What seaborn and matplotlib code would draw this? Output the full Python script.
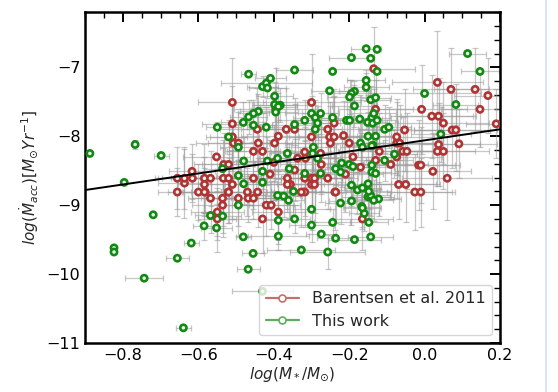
import numpy as np
import pandas as pd
import seaborn as sns
import matplotlib.pyplot as plt
from matplotlib.lines import Line2D
from matplotlib.ticker import MultipleLocator

# (log M*, log Macc, x error, y error)
barentsen_pts = [
    (-0.656, -8.61, 0.06, 0.45), (-0.656, -8.81, 0.05, 0.35), (-0.637, -8.68, 0.07, 0.50),
    (-0.600, -8.81, 0.08, 0.40), (-0.582, -8.81, 0.06, 0.30), (-0.521, -8.81, 0.10, 0.45),
    (-0.470, -8.81, 0.07, 0.35), (-0.443, -8.81, 0.09, 0.50), (-0.568, -8.90, 0.06, 0.30),
    (-0.536, -8.90, 0.08, 0.40), (-0.494, -8.90, 0.10, 0.55), (-0.468, -8.90, 0.07, 0.35),
    (-0.454, -8.90, 0.06, 0.30), (-0.536, -9.00, 0.08, 0.40), (-0.550, -9.10, 0.07, 0.35),
    (-0.550, -9.20, 0.05, 0.30), (-0.420, -9.00, 0.09, 0.45), (-0.407, -9.00, 0.06, 0.35),
    (-0.430, -9.20, 0.08, 0.50), (-0.388, -9.10, 0.07, 0.40), (-0.507, -8.10, 0.10, 0.60),
    (-0.494, -8.10, 0.08, 0.45), (-0.441, -8.10, 0.09, 0.50), (-0.454, -8.22, 0.07, 0.40),
    (-0.430, -8.22, 0.10, 0.55), (-0.552, -8.30, 0.09, 0.50), (-0.533, -8.41, 0.08, 0.45),
    (-0.520, -8.41, 0.07, 0.35), (-0.617, -8.51, 0.06, 0.40), (-0.637, -8.61, 0.07, 0.45),
    (-0.616, -8.61, 0.08, 0.35), (-0.584, -8.61, 0.09, 0.50), (-0.568, -8.61, 0.07, 0.40),
    (-0.534, -8.61, 0.10, 0.55), (-0.520, -8.61, 0.06, 0.30), (-0.454, -8.61, 0.08, 0.45),
    (-0.584, -8.70, 0.07, 0.40), (-0.510, -8.70, 0.09, 0.50), (-0.584, -8.81, 0.06, 0.35),
    (-0.520, -8.81, 0.08, 0.45), (-0.510, -7.51, 0.09, 0.65), (-0.510, -7.82, 0.08, 0.55),
    (-0.444, -7.90, 0.10, 0.60), (-0.510, -8.01, 0.07, 0.50), (-0.395, -7.61, 0.11, 0.60),
    (-0.398, -8.10, 0.09, 0.55), (-0.388, -8.00, 0.10, 0.50), (-0.367, -7.90, 0.12, 0.60),
    (-0.345, -7.90, 0.09, 0.45), (-0.257, -7.90, 0.11, 0.55), (-0.300, -8.01, 0.10, 0.50),
    (-0.252, -8.01, 0.08, 0.45), (-0.240, -8.01, 0.12, 0.60), (-0.215, -7.99, 0.09, 0.50),
    (-0.300, -7.51, 0.13, 0.70), (-0.130, -7.61, 0.10, 0.55), (-0.135, -7.02, 0.11, 0.60),
    (-0.240, -7.81, 0.10, 0.50), (-0.364, -8.61, 0.08, 0.45), (-0.356, -8.70, 0.09, 0.50),
    (-0.364, -8.70, 0.07, 0.40), (-0.318, -8.61, 0.10, 0.55), (-0.300, -8.61, 0.08, 0.45),
    (-0.292, -8.61, 0.09, 0.50), (-0.300, -8.70, 0.07, 0.40), (-0.292, -8.70, 0.10, 0.55),
    (-0.257, -8.61, 0.08, 0.45), (-0.318, -8.81, 0.09, 0.50), (-0.238, -8.81, 0.10, 0.55),
    (-0.345, -8.49, 0.08, 0.45), (-0.274, -8.41, 0.11, 0.55), (-0.318, -8.23, 0.09, 0.50),
    (-0.316, -8.32, 0.08, 0.45), (-0.337, -8.32, 0.10, 0.55), (-0.250, -8.10, 0.12, 0.60),
    (-0.200, -8.10, 0.09, 0.50), (-0.276, -8.25, 0.10, 0.55), (-0.165, -9.20, 0.08, 0.45),
    (-0.026, -8.81, 0.10, 0.55), (-0.010, -8.81, 0.09, 0.50), (-0.236, -8.81, 0.08, 0.45),
    (-0.327, -8.81, 0.09, 0.50), (-0.074, -8.10, 0.12, 0.60), (-0.066, -8.10, 0.10, 0.55),
    (-0.058, -8.22, 0.11, 0.50), (-0.047, -8.22, 0.09, 0.55), (-0.074, -8.30, 0.12, 0.60),
    (-0.090, -8.41, 0.10, 0.50), (-0.016, -8.42, 0.11, 0.65), (-0.010, -8.42, 0.09, 0.55),
    (0.022, -8.51, 0.10, 0.55), (0.060, -8.61, 0.12, 0.60), (-0.069, -8.70, 0.10, 0.50),
    (-0.050, -8.70, 0.09, 0.55), (0.037, -8.12, 0.11, 0.60), (0.034, -8.22, 0.10, 0.50),
    (0.050, -8.22, 0.12, 0.55), (0.091, -8.11, 0.10, 0.50), (0.034, -7.22, 0.12, 0.75),
    (0.070, -7.32, 0.10, 0.60), (0.134, -7.32, 0.11, 0.60), (0.168, -7.41, 0.09, 0.55),
    (-0.008, -7.61, 0.12, 0.65), (0.147, -7.61, 0.10, 0.55), (0.019, -7.71, 0.11, 0.60),
    (0.037, -7.71, 0.10, 0.55), (0.050, -7.81, 0.12, 0.60), (0.073, -7.91, 0.10, 0.55),
    (0.083, -7.91, 0.11, 0.60), (0.190, -7.82, 0.08, 0.50), (-0.053, -7.91, 0.12, 0.60),
    (-0.074, -8.01, 0.10, 0.55), (-0.120, -8.22, 0.11, 0.55), (-0.130, -8.35, 0.10, 0.50),
    (-0.170, -8.45, 0.09, 0.50), (-0.210, -8.55, 0.10, 0.55), (-0.190, -8.30, 0.11, 0.60),
    (-0.410, -8.55, 0.09, 0.50), (-0.400, -8.38, 0.10, 0.55),
]

this_work_pts = [
    (-0.888, -8.25, 0.00, 0.00), (-0.768, -8.12, 0.00, 0.06), (-0.699, -8.28, 0.02, 0.00),
    (-0.797, -8.67, 0.00, 0.00), (-0.720, -9.14, 0.00, 0.00), (-0.824, -9.62, 0.00, 0.00),
    (-0.824, -9.68, 0.00, 0.00), (-0.656, -9.77, 0.03, 0.00), (-0.744, -10.06, 0.05, 0.00),
    (-0.640, -10.78, 0.02, 0.00), (-0.568, -9.15, 0.04, 0.25), (-0.536, -9.16, 0.05, 0.30),
    (-0.585, -9.30, 0.03, 0.20), (-0.552, -9.33, 0.04, 0.35), (-0.619, -9.55, 0.02, 0.00),
    (-0.481, -9.46, 0.02, 0.00), (-0.455, -9.70, 0.03, 0.00), (-0.468, -9.93, 0.03, 0.00),
    (-0.494, -9.00, 0.04, 0.30), (-0.374, -8.87, 0.05, 0.30), (-0.361, -8.93, 0.04, 0.25),
    (-0.388, -9.22, 0.05, 0.35), (-0.345, -9.20, 0.04, 0.20), (-0.300, -9.06, 0.05, 0.30),
    (-0.300, -9.29, 0.06, 0.25), (-0.244, -9.25, 0.05, 0.20), (-0.223, -8.97, 0.04, 0.30),
    (-0.194, -8.94, 0.06, 0.35), (-0.167, -9.02, 0.05, 0.30), (-0.160, -9.12, 0.04, 0.25),
    (-0.148, -9.25, 0.05, 0.20), (-0.388, -9.45, 0.08, 0.20), (-0.274, -9.42, 0.04, 0.00),
    (-0.236, -9.48, 0.05, 0.00), (-0.186, -9.50, 0.07, 0.00), (-0.143, -9.46, 0.06, 0.00),
    (-0.327, -9.65, 0.09, 0.00), (-0.257, -9.68, 0.10, 0.25), (-0.150, -8.88, 0.07, 0.35),
    (-0.143, -8.88, 0.05, 0.30), (-0.122, -8.91, 0.06, 0.25), (-0.430, -10.25, 0.08, 0.00),
    (0.114, -6.80, 0.05, 0.00), (0.147, -7.06, 0.05, 0.00), (0.000, -7.38, 0.15, 0.00),
    (0.083, -7.54, 0.06, 0.30), (-0.106, -7.90, 0.07, 0.35), (-0.095, -7.87, 0.06, 0.30),
    (0.043, -7.97, 0.08, 0.40), (-0.155, -6.73, 0.04, 0.00), (-0.126, -6.74, 0.00, 0.00),
    (-0.194, -6.86, 0.06, 0.00), (-0.143, -6.87, 0.00, 0.00), (-0.345, -7.04, 0.05, 0.00),
    (-0.244, -7.06, 0.00, 0.00), (-0.126, -7.06, 0.00, 0.00), (-0.155, -7.19, 0.05, 0.15),
    (-0.155, -7.29, 0.06, 0.20), (-0.252, -7.34, 0.05, 0.00), (-0.186, -7.35, 0.04, 0.15),
    (-0.194, -7.38, 0.05, 0.20), (-0.199, -7.43, 0.06, 0.25), (-0.143, -7.47, 0.05, 0.20),
    (-0.130, -7.44, 0.04, 0.25), (-0.186, -7.56, 0.06, 0.30), (-0.300, -7.67, 0.07, 0.25),
    (-0.276, -7.67, 0.05, 0.30), (-0.290, -7.73, 0.06, 0.25), (-0.318, -7.77, 0.07, 0.30),
    (-0.284, -7.81, 0.06, 0.25), (-0.244, -7.73, 0.05, 0.30), (-0.207, -7.77, 0.07, 0.35),
    (-0.199, -7.77, 0.05, 0.30), (-0.172, -7.75, 0.06, 0.35), (-0.140, -7.73, 0.05, 0.30),
    (-0.135, -7.67, 0.06, 0.35), (-0.151, -7.80, 0.05, 0.40), (-0.138, -7.81, 0.06, 0.30),
    (-0.126, -7.77, 0.05, 0.35), (-0.345, -7.83, 0.06, 0.30), (-0.290, -7.90, 0.07, 0.35),
    (-0.383, -7.55, 0.07, 0.25), (-0.467, -7.10, 0.02, 0.00), (-0.430, -7.28, 0.04, 0.15),
    (-0.420, -7.23, 0.12, 0.00), (-0.417, -7.30, 0.05, 0.15), (-0.409, -7.16, 0.04, 0.00),
    (-0.398, -7.42, 0.05, 0.20), (-0.398, -7.54, 0.06, 0.25), (-0.388, -7.57, 0.05, 0.20),
    (-0.395, -7.65, 0.06, 0.30), (-0.441, -7.64, 0.05, 0.25), (-0.454, -7.67, 0.04, 0.20),
    (-0.467, -7.72, 0.05, 0.25), (-0.481, -7.80, 0.06, 0.30), (-0.454, -7.84, 0.05, 0.25),
    (-0.550, -7.87, 0.03, 0.00), (-0.420, -7.87, 0.05, 0.30), (-0.520, -8.01, 0.05, 0.25),
    (-0.494, -8.16, 0.05, 0.30), (-0.480, -8.36, 0.06, 0.35), (-0.536, -8.47, 0.05, 0.30),
    (-0.494, -8.57, 0.06, 0.35), (-0.480, -8.69, 0.05, 0.30), (-0.430, -8.51, 0.06, 0.35),
    (-0.430, -8.67, 0.05, 0.30), (-0.417, -8.36, 0.06, 0.35), (-0.390, -8.32, 0.05, 0.30),
    (-0.390, -8.86, 0.06, 0.35), (-0.364, -8.25, 0.05, 0.30), (-0.359, -8.47, 0.06, 0.35),
    (-0.318, -8.54, 0.05, 0.30), (-0.295, -8.16, 0.06, 0.35), (-0.297, -8.25, 0.05, 0.30),
    (-0.284, -8.32, 0.06, 0.35), (-0.276, -8.54, 0.05, 0.30), (-0.236, -8.47, 0.06, 0.35),
    (-0.223, -8.52, 0.05, 0.30), (-0.220, -8.39, 0.06, 0.35), (-0.200, -8.41, 0.05, 0.30),
    (-0.190, -8.44, 0.06, 0.35), (-0.170, -8.10, 0.05, 0.30), (-0.165, -8.16, 0.06, 0.35),
    (-0.137, -8.13, 0.05, 0.30), (-0.140, -8.42, 0.06, 0.35), (-0.140, -8.52, 0.05, 0.30),
    (-0.130, -8.54, 0.06, 0.35), (-0.194, -8.71, 0.05, 0.30), (-0.178, -8.78, 0.06, 0.35),
    (-0.165, -8.75, 0.05, 0.30), (-0.150, -8.69, 0.06, 0.35), (-0.143, -8.86, 0.05, 0.30),
    (-0.148, -8.80, 0.06, 0.35), (-0.135, -8.93, 0.05, 0.30), (-0.348, -8.80, 0.06, 0.35),
    (-0.165, -9.04, 0.05, 0.30), (-0.080, -8.26, 0.06, 0.35), (-0.106, -8.35, 0.05, 0.30),
    (-0.150, -8.00, 0.06, 0.35), (-0.130, -8.00, 0.05, 0.30), (-0.140, -8.14, 0.06, 0.35),
]

fit_slope = 0.80
fit_intercept = -8.06

series_names = ["Barentsen et al. 2011", "This work"]
series_colors = ["#b03434", "#128a12"]
legend_colors = ["#c27070", "#5fae5f"]

cols = ["logM", "logMacc", "xerr", "yerr"]
df = pd.concat([
    pd.DataFrame(barentsen_pts, columns=cols).assign(sample=series_names[0]),
    pd.DataFrame(this_work_pts, columns=cols).assign(sample=series_names[1]),
], ignore_index=True)

sns.set_style("white")
plt.rcParams['font.family'] = ['DejaVu Sans']
plt.rcParams['mathtext.fontset'] = 'dejavusans'

fig = plt.figure(figsize=(5.58, 3.92), dpi=100)
ax = fig.add_axes([0.153, 0.125, 0.743, 0.844])

for name in series_names:
    sub = df[df["sample"] == name]
    ax.errorbar(sub["logM"], sub["logMacc"], xerr=sub["xerr"], yerr=sub["yerr"],
                fmt="none", ecolor="#9a9a9a", alpha=0.55, elinewidth=0.9,
                capsize=2.5, capthick=0.9, zorder=1)

sns.scatterplot(data=df, x="logM", y="logMacc", hue="sample",
                palette=dict(zip(series_names, series_colors)),
                hue_order=series_names, ax=ax, legend=False,
                s=20, linewidth=1.9, zorder=3)
# ring markers: light face, coloured edge
pts = ax.collections[-1]
pts.set_edgecolors(pts.get_facecolors())
pts.set_facecolors("#eef4ee")

ax.axline((0, fit_intercept), slope=fit_slope, color="black", lw=1.4, zorder=4)

ax.set_xlim(-0.9, 0.2)
ax.set_ylim(-11, -6.2)
ax.xaxis.set_major_locator(MultipleLocator(0.2))
ax.xaxis.set_minor_locator(MultipleLocator(0.05))
ax.yaxis.set_major_locator(MultipleLocator(1))
ax.yaxis.set_minor_locator(MultipleLocator(0.2))
ax.tick_params(which="both", direction="in", top=True, right=True, colors="black",
               labelsize=11.5)
ax.tick_params(which="major", length=7, width=1.4)
ax.tick_params(which="minor", length=4, width=1.0)
for sp in ax.spines.values():
    sp.set_color("black")
    sp.set_linewidth(1.8)

ax.set_xlabel(r"$log(M_*/M_{\odot})$", fontsize=11, labelpad=2)
ax.set_ylabel(r"$log(\dot{M}_{acc})[M_{\odot}Yr^{-1}]$", fontsize=11, labelpad=4)

handles = [Line2D([0], [0], color=c, lw=1.6, marker="o", markersize=5,
                  markerfacecolor="white", markeredgecolor=c, markeredgewidth=1.2)
           for c in legend_colors]
ax.legend(handles, series_names, loc="lower right", fontsize=11.5,
          frameon=True, framealpha=0.8, handlelength=2.1, borderpad=0.4,
          labelspacing=0.45, handletextpad=0.8)

fig.add_artist(Line2D([0.978, 0.978], [0, 1], color="#cfe2f3", lw=1.2))

fig.savefig("out.png", dpi=100)
